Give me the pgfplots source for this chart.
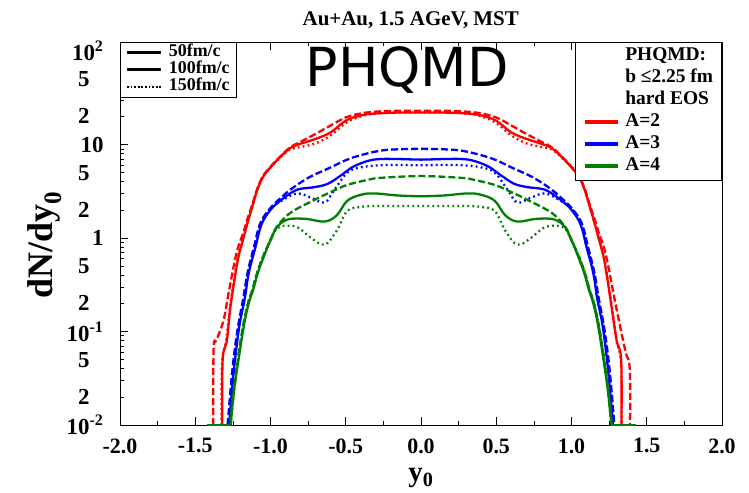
\documentclass[border=0pt]{standalone}
\usepackage{pgfplots}
\pgfplotsset{compat=1.18}
\usepackage{fontspec}
\setmainfont{Liberation Serif}
\newfontfamily\dejavu{DejaVu Sans}
\usetikzlibrary{calc}
\definecolor{cred}{RGB}{255,0,0}
\definecolor{cblue}{RGB}{0,0,255}
\definecolor{cgreen}{RGB}{0,128,0}
\pgfplotsset{
  sol/.style={line width=2.3bp, smooth, tension=0.6},
  das/.style={line width=2.3bp, dash pattern=on 7bp off 3bp, smooth, tension=0.6},
  dot/.style={line width=2.3bp, dash pattern=on 1.8bp off 3.2bp, smooth, tension=0.6},
}
\begin{document}
\begin{tikzpicture}
\begin{axis}[
  name=ax,
  scale only axis, width=602bp, height=383bp,
  ymode=log, xmin=-2, xmax=2, ymin=0.01, ymax=125,
  clip=false,
  axis line style={line width=0.8bp},
  xtick={-2,-1.5,-1,-0.5,0,0.5,1,1.5,2},
  xticklabels={-2.0,-1.5,-1.0,-0.5,0.0,0.5,1.0,1.5,2.0},
  minor xtick={-1.75,-1.25,-0.75,-0.25,0.25,0.75,1.25,1.75},
  xtick pos=both, ytick pos=left,
  ytick={0.01,0.1,1,10,100},
  yticklabels={10\textsuperscript{-2},10\textsuperscript{-1},1,10,10\textsuperscript{2}},
  extra y ticks={0.02,0.05,0.2,0.5,2,5,20,50},
  extra y tick labels={2,5,2,5,2,5,2,5},
  extra y tick style={major tick length=4bp, tick label style={font=\fontsize{15}{15}\selectfont\bfseries, xshift=-14bp}},
  major tick length=8bp, minor tick length=4bp,
  tick style={black, line width=0.6bp},
  x tick label style={font=\fontsize{22}{22}\selectfont\bfseries, yshift=-10bp},
  y tick label style={font=\fontsize{23}{23}\selectfont\bfseries, xshift=-13bp},
  xlabel={y\textsubscript{0}},
  xlabel style={at={(axis description cs:0.5,-0.113)}, anchor=north, inner sep=0pt, font=\fontsize{29}{29}\selectfont\bfseries},
  ylabel={dN/dy\textsubscript{0}},
  ylabel style={at={(axis description cs:-0.125,0.47)}, anchor=center, rotate=0, font=\fontsize{36}{36}\selectfont\bfseries},
  legend image code/.code={\draw[#1] (0bp,0bp) -- (33bp,0bp);},
  legend cell align=left,
  legend style={at={(axis description cs:1,1)}, anchor=north east, draw=black, line width=0.8bp,
    font=\fontsize{19.5}{19.5}\selectfont\bfseries, inner xsep=7bp, inner ysep=3bp, row sep=0bp,
    nodes={inner sep=1.5bp, text height=14bp, text depth=5bp},
    /tikz/every odd column/.style={column sep=4bp}},
]
\addlegendimage{empty legend}\addlegendentry{PHQMD:}
\addlegendimage{empty legend}\addlegendentry{b ≤2.25 fm}
\addlegendimage{empty legend}\addlegendentry{hard EOS}
\addlegendimage{cred, line width=4bp}\addlegendentry{A=2}
\addlegendimage{cblue, line width=4bp}\addlegendentry{A=3}
\addlegendimage{cgreen, line width=4bp}\addlegendentry{A=4}

% A=2 red
\addplot[cred, sol, forget plot] coordinates {
(-1.32,0.01)(-1.318,0.05)(-1.29,0.08)(-1.267,0.18)(-1.24,0.35)(-1.213,0.63)(-1.18,1.0)(-1.153,1.45)(-1.12,2.2)(-1.087,3.3)(-1.05,4.5)(-1.0,5.7)(-0.93,7.5)(-0.867,9.2)(-0.8,10.2)(-0.7,11.5)(-0.6,13.5)(-0.5,18)(-0.4,20.5)(-0.3,21.5)(-0.15,22)(0,22)
(0.15,22)(0.3,21.5)(0.4,20.5)(0.5,18)(0.6,13.5)(0.7,11.5)(0.8,10.2)(0.867,9.2)(0.93,7.5)(1.0,5.7)(1.05,4.5)(1.087,3.3)(1.12,2.2)(1.153,1.45)(1.18,1.0)(1.213,0.63)(1.24,0.35)(1.267,0.18)(1.3,0.08)(1.33,0.05)(1.332,0.01)};
\addplot[cred, das, forget plot] coordinates {
(-1.38,0.01)(-1.378,0.066)(-1.36,0.08)(-1.313,0.13)(-1.28,0.25)(-1.25,0.45)(-1.22,0.75)(-1.18,1.15)(-1.153,1.6)(-1.12,2.3)(-1.087,3.4)(-1.05,4.6)(-1.0,5.8)(-0.93,7.6)(-0.867,9.4)(-0.8,10.7)(-0.7,13)(-0.6,16)(-0.5,19.5)(-0.4,21.5)(-0.3,22.5)(-0.15,23)(0,23)
(0.15,23)(0.3,22.5)(0.4,21.5)(0.5,19.5)(0.6,16)(0.7,13)(0.8,10.7)(0.867,9.4)(0.93,7.6)(1.0,5.8)(1.05,4.6)(1.087,3.4)(1.12,2.3)(1.153,1.6)(1.18,1.15)(1.22,0.75)(1.25,0.45)(1.28,0.25)(1.32,0.12)(1.36,0.06)(1.387,0.04)(1.389,0.01)};
\addplot[cred, dot, forget plot] coordinates {
(-1.325,0.01)(-1.322,0.045)(-1.295,0.08)(-1.27,0.18)(-1.243,0.35)(-1.215,0.63)(-1.18,1.0)(-1.153,1.45)(-1.12,2.2)(-1.087,3.3)(-1.05,4.5)(-1.0,5.7)(-0.93,7.4)(-0.867,8.9)(-0.8,9.4)(-0.7,10.3)(-0.6,12.5)(-0.5,17)(-0.4,20)(-0.3,21.5)(-0.15,22)(0,22)
(0.15,22)(0.3,21.5)(0.4,20)(0.5,17)(0.6,12.5)(0.7,10.3)(0.8,9.4)(0.867,8.9)(0.93,7.4)(1.0,5.7)(1.05,4.5)(1.087,3.3)(1.12,2.2)(1.153,1.45)(1.18,1.0)(1.215,0.63)(1.243,0.35)(1.27,0.18)(1.3,0.08)(1.33,0.045)(1.333,0.01)};

% A=3 blue
\addplot[cblue, sol, forget plot] coordinates {
(-1.275,0.01)(-1.25,0.03)(-1.23,0.06)(-1.205,0.12)(-1.17,0.23)(-1.145,0.42)(-1.1,0.8)(-1.06,1.4)(-1.0,2.0)(-0.93,2.55)(-0.84,3.2)(-0.78,3.4)(-0.71,3.5)(-0.62,3.8)(-0.53,4.7)(-0.45,5.8)(-0.35,6.7)(-0.27,7.0)(-0.15,7.0)(0,6.9)
(0.15,7.0)(0.27,7.0)(0.35,6.7)(0.45,5.8)(0.53,4.7)(0.62,3.8)(0.71,3.5)(0.78,3.4)(0.84,3.2)(0.93,2.55)(1.0,2.0)(1.06,1.4)(1.1,0.8)(1.145,0.42)(1.17,0.23)(1.205,0.12)(1.23,0.06)(1.25,0.03)(1.275,0.01)};
\addplot[cblue, das, forget plot] coordinates {
(-1.285,0.01)(-1.26,0.03)(-1.24,0.06)(-1.213,0.12)(-1.18,0.23)(-1.153,0.42)(-1.11,0.8)(-1.067,1.45)(-1.0,2.1)(-0.93,2.7)(-0.867,3.3)(-0.75,4.4)(-0.6,5.7)(-0.5,6.8)(-0.4,7.7)(-0.27,8.6)(-0.15,8.9)(0,9.0)
(0.15,8.9)(0.27,8.6)(0.4,7.7)(0.5,6.8)(0.6,5.7)(0.75,4.4)(0.867,3.3)(0.93,2.7)(1.0,2.1)(1.067,1.45)(1.11,0.8)(1.153,0.42)(1.18,0.23)(1.213,0.12)(1.24,0.06)(1.26,0.03)(1.285,0.01)};
\addplot[cblue, dot, forget plot] coordinates {
(-1.28,0.01)(-1.255,0.03)(-1.235,0.06)(-1.21,0.12)(-1.175,0.23)(-1.15,0.42)(-1.105,0.8)(-1.065,1.4)(-1.0,2.05)(-0.91,2.6)(-0.82,3.0)(-0.73,2.7)(-0.64,2.4)(-0.58,3.2)(-0.49,5.0)(-0.4,5.7)(-0.27,6.0)(-0.15,6.05)(0,6.0)
(0.15,6.05)(0.27,6.0)(0.4,5.7)(0.49,5.0)(0.58,3.2)(0.64,2.4)(0.73,2.7)(0.82,3.0)(0.91,2.6)(1.0,2.05)(1.065,1.4)(1.105,0.8)(1.15,0.42)(1.175,0.23)(1.21,0.12)(1.235,0.06)(1.255,0.03)(1.28,0.01)};

% A=4 green
\addplot[cgreen, das, forget plot] coordinates {
(-1.265,0.01)(-1.24,0.025)(-1.21,0.06)(-1.18,0.12)(-1.15,0.2)(-1.12,0.28)(-1.09,0.42)(-1.05,0.63)(-1.0,0.95)(-0.96,1.3)(-0.87,1.85)(-0.71,2.55)(-0.6,3.1)(-0.49,3.7)(-0.35,4.2)(-0.27,4.4)(0,4.6)
(0.27,4.4)(0.35,4.2)(0.49,3.7)(0.6,3.1)(0.71,2.55)(0.87,1.85)(0.96,1.3)(1.0,0.95)(1.05,0.63)(1.09,0.42)(1.12,0.28)(1.15,0.2)(1.18,0.12)(1.21,0.06)(1.24,0.025)(1.265,0.01)};
\addplot[cgreen, dot, forget plot] coordinates {
(-1.27,0.01)(-1.245,0.025)(-1.21,0.06)(-1.18,0.12)(-1.15,0.2)(-1.12,0.28)(-1.09,0.42)(-1.05,0.63)(-1.0,0.95)(-0.96,1.25)(-0.91,1.35)(-0.82,1.3)(-0.73,1.0)(-0.64,0.85)(-0.56,1.2)(-0.49,1.95)(-0.4,2.15)(-0.31,2.2)(-0.15,2.2)(0,2.2)
(0.15,2.2)(0.31,2.2)(0.4,2.15)(0.49,1.95)(0.56,1.2)(0.64,0.85)(0.73,1.0)(0.82,1.3)(0.91,1.35)(0.96,1.25)(1.0,0.95)(1.05,0.63)(1.09,0.42)(1.12,0.28)(1.15,0.2)(1.18,0.12)(1.21,0.06)(1.245,0.025)(1.27,0.01)};
\addplot[cgreen, sol, forget plot] coordinates {
(-1.265,0.01)(-1.24,0.025)(-1.205,0.06)(-1.175,0.12)(-1.145,0.2)(-1.115,0.28)(-1.085,0.42)(-1.045,0.63)(-1.0,0.95)(-0.96,1.3)(-0.93,1.45)(-0.87,1.6)(-0.76,1.6)(-0.64,1.5)(-0.56,1.75)(-0.49,2.5)(-0.4,2.9)(-0.31,3.0)(-0.15,2.85)(0,2.8)
(0.15,2.85)(0.31,3.0)(0.4,2.9)(0.49,2.5)(0.56,1.75)(0.64,1.5)(0.76,1.6)(0.87,1.6)(0.93,1.45)(0.96,1.3)(1.0,0.95)(1.045,0.63)(1.085,0.42)(1.115,0.28)(1.145,0.2)(1.175,0.12)(1.205,0.06)(1.24,0.025)(1.265,0.01)};
\addplot[cgreen, line width=2.5bp, forget plot] coordinates {(-1.42,0.01)(-1.265,0.01)};
\addplot[cgreen, line width=2.5bp, forget plot] coordinates {(1.265,0.01)(1.43,0.01)};

\node[font=\fontsize{21}{21}\selectfont\bfseries] at (axis description cs:0.483,1.057) {Au+Au, 1.5 AGeV, MST};
\node[font=\dejavu\fontsize{54}{54}\selectfont] at (axis description cs:0.477,0.927) {PHQMD};
\end{axis}
\begin{axis}[
  scale only axis, width=602bp, height=383bp,
  xmin=-2, xmax=2, ymin=0, ymax=1, hide axis,
  legend image code/.code={\draw[#1] (0bp,0bp) -- (34bp,0bp);},
  legend cell align=left,
  legend style={at={(axis description cs:0,1)}, anchor=north west, draw=black, line width=0.8bp,
    font=\fontsize{18}{18}\selectfont\bfseries, inner xsep=5bp, inner ysep=2bp, row sep=0bp,
    nodes={inner sep=1.5bp, text height=11bp, text depth=3bp},
    /tikz/every odd column/.style={column sep=5bp}},
]
\addlegendimage{black, line width=3bp}\addlegendentry{50fm/c}
\addlegendimage{black, line width=3bp}\addlegendentry{100fm/c}
\addlegendimage{black, line width=2.2bp, dash pattern=on 1.8bp off 1.8bp}\addlegendentry{150fm/c}
\end{axis}
\pgfresetboundingbox
\path ($(ax.south west)+(-120bp,-68bp)$) rectangle ($(ax.north east)+(27bp,42bp)$);
\end{tikzpicture}
\end{document}
